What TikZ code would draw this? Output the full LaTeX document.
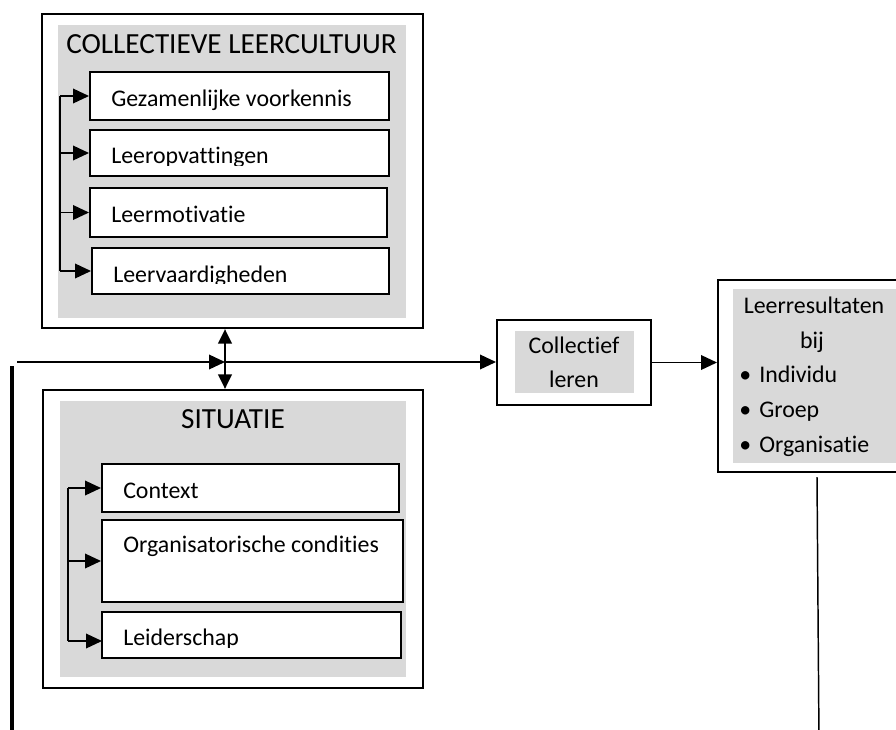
\documentclass[tikz,border=0pt]{standalone}
\usepackage{fontspec}
\setmainfont{Carlito}[Ligatures={NoCommon}]
\usetikzlibrary{arrows.meta,fit}
\definecolor{panelgray}{RGB}{217,217,217}
\tikzset{
  outerbox/.style={draw, line width=1.5pt, fill=white, inner sep=0pt},
  graypanel/.style={fill=panelgray, inner sep=0pt},
  itembox/.style={draw, line width=1.5pt, fill=white, inner sep=0pt},
  txt/.style={inner sep=0pt, font=\fontsize{17.9pt}{21pt}\selectfont},
  ttl/.style={inner sep=0pt, font=\fontsize{21.9pt}{26pt}\selectfont},
  conn/.style={line width=1.1pt, -{Triangle[length=12pt,width=11pt]}},
  brk/.style={line width=1.5pt},
  dblarrow/.style={line width=2.2pt, {Triangle[length=11pt,width=10pt]}-{Triangle[length=11pt,width=10pt]}},
  thickline/.style={line width=2.3pt},
  thinline/.style={line width=1.1pt}
}
\begin{document}
\begin{tikzpicture}[x=0.75pt,y=-0.75pt]
\useasboundingbox (0,0) rectangle (896,729);
\clip (0,0) rectangle (896,729);

% ---------- top block ----------
\node[outerbox, fit={(42,14) (423,328)}] (cul) {};
\node[graypanel, fit={(58,25) (406,318)}] (culg) {};
\node[ttl, anchor=base] (cult) at (231.5,53) {COLLECTIEVE LEERCULTUUR};
\node[itembox, fit={(90,72) (389,120)}] (c1) {};
\node[itembox, fit={(90,130) (389,176)}] (c2) {};
\node[itembox, fit={(90,188) (387,237)}] (c3) {};
\node[itembox, fit={(92,248) (389,294)}] (c4) {};
\node[txt, anchor=base west] (c1t) at (111,106) {Gezamenlijke voorkennis};
\begin{scope}
  \clip (90,130) rectangle (389,165);
  \node[txt, anchor=base west] (c2t) at (111,163) {Leeropvattingen};
\end{scope}
\node[txt, anchor=base west] (c3t) at (111,222) {Leermotivatie};
\begin{scope}
  \clip (92,248) rectangle (389,283.5);
  \node[txt, anchor=base west] (c4t) at (113,282) {Leervaardigheden};
\end{scope}
\coordinate (bk1) at (60,0);
\draw[brk] (bk1 |- c1.west) -- (bk1 |- c4.west);
\draw[conn] (bk1 |- c1.west) -- (c1.west);
\draw[conn] (bk1 |- c2.west) -- (c2.west);
\draw[conn] (bk1 |- c3.west) -- (c3.west);
\draw[conn] (bk1 |- c4.west) -- (c4.west);

% ---------- bottom block ----------
\node[outerbox, fit={(43,390) (423,688)}] (sit) {};
\node[graypanel, fit={(60,401) (406,677)}] (sitg) {};
\node[ttl, anchor=base] (sitt) at (233,428) {SITUATIE};
\node[itembox, fit={(102,464) (399,512)}] (s1) {};
\node[itembox, fit={(102,520) (403,602)}] (s2) {};
\node[itembox, fit={(102,612) (401,658)}] (s3) {};
\node[txt, anchor=base west] (s1t) at (123,498) {Context};
\node[txt, anchor=base west] (s2t) at (123,552) {Organisatorische condities};
\begin{scope}
  \clip (102,612) rectangle (401,647);
  \node[txt, anchor=base west] (s3t) at (123,645) {Leiderschap};
\end{scope}
\coordinate (bk2) at (68,0);
\coordinate (s3in) at (102,641);
\draw[brk] (bk2 |- s1.west) -- (bk2 |- s3in);
\draw[conn] (bk2 |- s1.west) -- (s1.west);
\draw[conn] (bk2 |- s2.west) -- (s2.west);
\draw[conn] (bk2 |- s3in) -- (s3in);

% ---------- double arrow ----------
\coordinate (dx) at (225,0);
\draw[dblarrow] (dx |- cul.south) -- (dx |- sit.north);

% ---------- collectief leren ----------
\node[outerbox, fit={(497,320) (651,405)}] (col) {};
\node[graypanel, fit={(515,331) (634,393)}] (colg) {};
\node[txt, anchor=base] (colt1) at (574,353) {Collectief};
\node[txt, anchor=base] (colt2) at (574,387) {leren};

% ---------- leerresultaten ----------
\node[outerbox, fit={(718,280) (930,472)}] (res) {};
\node[graypanel, fit={(733,289) (920,463)}] (resg) {};
\node[txt, anchor=base] (rest1) at (814,313) {Leerresultaten};
\node[txt, anchor=base] (rest2) at (812,348) {bij};
\node[txt, anchor=base west] (resb1) at (739,382) {\makebox[15pt][l]{\textbullet}Individu};
\node[txt, anchor=base west] (resb2) at (739,417) {\makebox[15pt][l]{\textbullet}Groep};
\node[txt, anchor=base west] (resb3) at (739,452) {\makebox[15pt][l]{\textbullet}Organisatie};

% ---------- connectors ----------
\coordinate (fbin) at (17,362);
\coordinate (jn) at (225,362);
\draw[conn] (fbin) -- (jn);
\draw[conn] (jn) -- (col.west |- jn);
\draw[conn] (col.east) -- (col.east -| res.west);

\coordinate (lv1) at (12,366);
\coordinate (lv2) at (12,740);
\draw[thickline] (lv1) -- (lv2);

\coordinate (rv1) at (817,477);
\coordinate (rv2) at (819,740);
\draw[thinline] (rv1) -- (rv2);
\end{tikzpicture}
\end{document}
